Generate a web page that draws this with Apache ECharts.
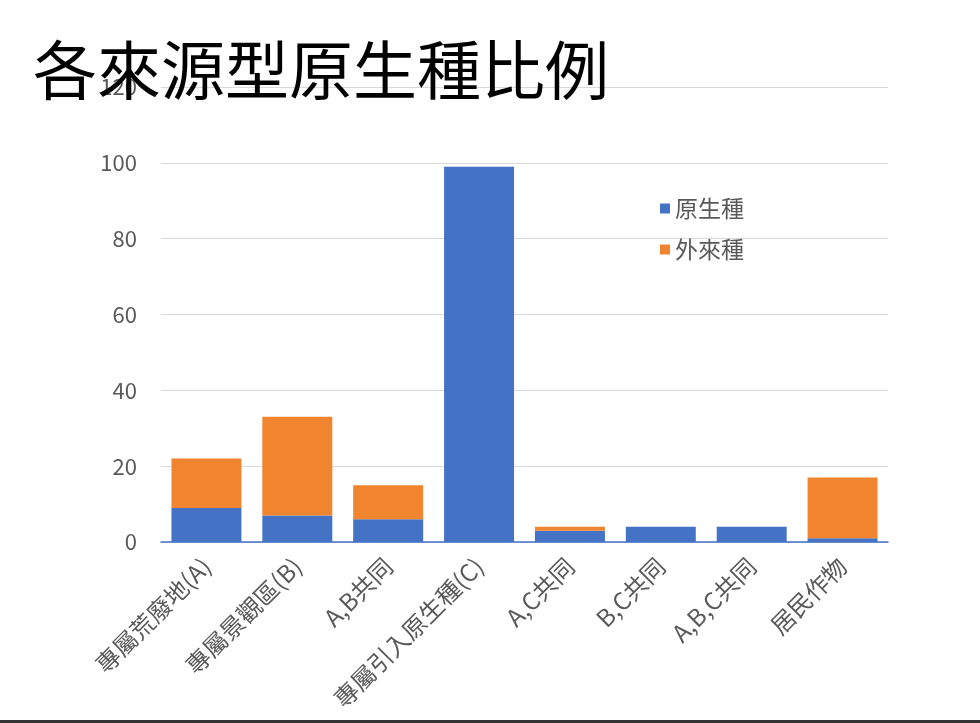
<!DOCTYPE html>
<html>
<head>
<meta charset="utf-8">
<script src="https://cdn.jsdelivr.net/npm/echarts@6/dist/echarts.min.js"></script>
<style>
html,body{margin:0;padding:0;background:#fff;}
#c{width:980px;height:723px;}
</style>
</head>
<body>
<div id="c"></div>
<script>
const categories = ['專屬荒廢地(A)', '專屬景觀區(B)', 'A,B共同', '專屬引入原生種(C)', 'A,C共同', 'B,C共同', 'A,B,C共同', '居民作物'];
const nativeSpecies = [9, 7, 6, 99, 3, 4, 4, 1];
const alienSpecies = [13, 26, 9, 0, 1, 0, 0, 16];
const yTicks = { min: 0, max: 120, interval: 20 };

const chart = echarts.init(document.getElementById('c'));
const cjk = '"Noto Sans CJK TC", "Noto Sans", sans-serif';
chart.setOption({
  animation: false,
  backgroundColor: '#fff',
  title: {
    text: '各來源型原生種比例',
    left: 28, top: 33,
    textStyle: { fontFamily: cjk, fontSize: 64, fontWeight: 'normal', color: '#000' }
  },
  legend: {
    orient: 'vertical',
    left: 655, top: 192,
    itemWidth: 10, itemHeight: 10, itemGap: 18,
    icon: 'rect',
    textStyle: { fontFamily: cjk, fontSize: 23, color: '#595959' },
    data: ['原生種', '外來種']
  },
  grid: { left: 161, right: 92, top: 87, bottom: 181, containLabel: false },
  xAxis: {
    type: 'category',
    data: categories,
    axisTick: { show: false },
    axisLine: { lineStyle: { color: '#4472C4', width: 1.5 } },
    axisLabel: { rotate: 45, interval: 0, fontFamily: cjk, fontSize: 24, color: '#595959', margin: 20 }
  },
  yAxis: {
    type: 'value',
    min: yTicks.min, max: yTicks.max, interval: yTicks.interval,
    axisLine: { show: false },
    axisTick: { show: false },
    splitLine: { lineStyle: { color: '#d9d9d9', width: 1 } },
    axisLabel: { fontFamily: cjk, fontSize: 22, color: '#595959', margin: 24 },
    z: 0
  },
  series: [
    { name: '原生種', type: 'bar', stack: 't', data: nativeSpecies, barCategoryGap: '23%', itemStyle: { color: '#4472C4' } },
    { name: '外來種', type: 'bar', stack: 't', data: alienSpecies, barCategoryGap: '23%', itemStyle: { color: '#F0842F' } }
  ],
  graphic: [
    { type: 'rect', left: 0, top: 720, shape: { width: 980, height: 3 }, style: { fill: '#333' }, z: 100 }
  ]
});
</script>
</body>
</html>
